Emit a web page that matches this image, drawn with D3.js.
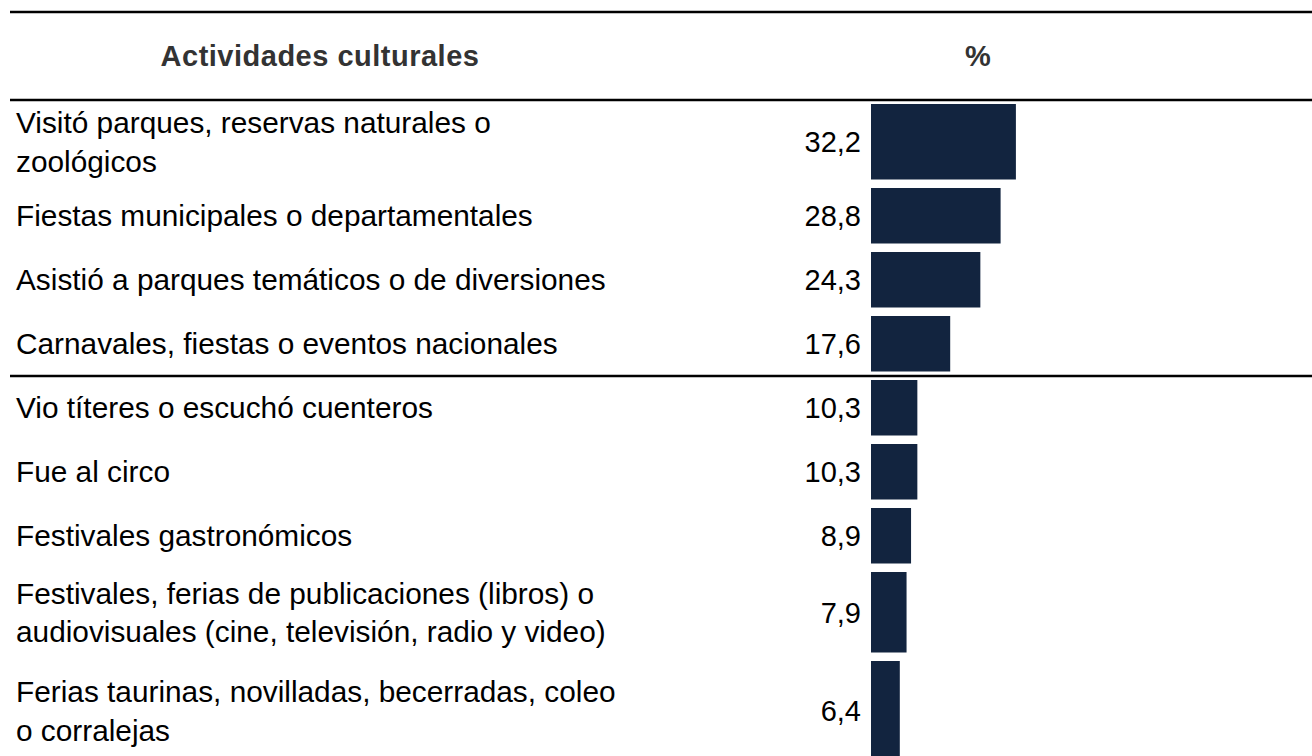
<!DOCTYPE html>
<html><head><meta charset="utf-8">
<script src="https://cdn.jsdelivr.net/npm/d3@7"></script>
<style>html,body{margin:0;padding:0;background:#fff;overflow:hidden}</style>
</head><body><svg id="chart" width="1312" height="756"></svg>
<script>
// ---- data ----
const categories = [
  "Visitó parques, reservas naturales o\nzoológicos",
  "Fiestas municipales o departamentales",
  "Asistió a parques temáticos o de diversiones",
  "Carnavales, fiestas o eventos nacionales",
  "Vio títeres o escuchó cuenteros",
  "Fue al circo",
  "Festivales gastronómicos",
  "Festivales, ferias de publicaciones (libros) o\naudiovisuales (cine, televisión, radio y video)",
  "Ferias taurinas, novilladas, becerradas, coleo\no corralejas"
];
const values = [32.2, 28.8, 24.3, 17.6, 10.3, 10.3, 8.9, 7.9, 6.4];
const headers = ["Actividades culturales", "%"];
const groupSizes = [4, 5];

// ---- layout ----
const W = 1312, H = 756;
const rowPitch = [84, 64, 64, 64, 64, 64, 64, 89, 108];
const tableTop = 100, ruleTop = 12, ruleX0 = 10;
const barInsetTop = 4, barGap = 8.5;
const fsLabel = 29.8, fsValue = 29, lineGap = 38.5;
const font = "'Liberation Sans', Arial, Helvetica, sans-serif";
const barColor = "#12243f";

const svg = d3.select("#chart");
const fmt = d3.formatLocale({decimal: ",", thousands: ".", grouping: [3], currency: ["", ""]}).format(".1f");

const x = d3.scaleLinear().domain([0, 100]).range([871, 871 + 450]);

const starts = [tableTop, ...d3.cumsum(rowPitch).map(v => tableTop + v)];
const rows = categories.map((c, i) => {
  const top = starts[i] + barInsetTop;
  const h = rowPitch[i] - barGap;
  return {label: c.split("\n"), value: values[i], top, h, center: top + h / 2};
});

// rules
const ruleYs = [ruleTop, tableTop];
let acc = 0;
groupSizes.slice(0, -1).forEach(g => { acc += g; ruleYs.push(starts[acc]); });
svg.selectAll("line.rule").data(ruleYs).join("line")
  .attr("class", "rule")
  .attr("x1", ruleX0).attr("x2", W)
  .attr("y1", d => d).attr("y2", d => d)
  .attr("stroke", "#000").attr("stroke-width", 2.6);

// headers
svg.append("text").text(headers[0])
  .attr("x", 320).attr("y", 66).attr("text-anchor", "middle")
  .attr("font-family", font).attr("font-weight", "bold").attr("font-size", 29)
  .attr("letter-spacing", 0.5).attr("fill", "#333");
svg.append("text").text(headers[1])
  .attr("x", 978).attr("y", 66).attr("text-anchor", "middle")
  .attr("font-family", font).attr("font-weight", "bold").attr("font-size", 29)
  .attr("fill", "#333");

// bars
svg.selectAll("rect.bar").data(rows).join("rect")
  .attr("class", "bar")
  .attr("x", x(0)).attr("y", d => d.top)
  .attr("width", d => x(d.value) - x(0)).attr("height", d => d.h)
  .attr("fill", barColor);

// category labels
const lab = svg.selectAll("text.cat").data(rows).join("text")
  .attr("class", "cat")
  .attr("font-family", font).attr("font-size", fsLabel).attr("fill", "#000");
lab.each(function(d) {
  const n = d.label.length;
  d3.select(this).selectAll("tspan").data(d.label).join("tspan")
    .attr("x", 16)
    .attr("y", (t, i) => d.center + (i - (n - 1) / 2) * lineGap + 0.355 * fsLabel)
    .text(t => t);
});

// value labels
svg.selectAll("text.val").data(rows).join("text")
  .attr("class", "val")
  .attr("x", 861).attr("y", d => d.center + 0.355 * fsValue)
  .attr("text-anchor", "end")
  .attr("font-family", font).attr("font-size", fsValue).attr("fill", "#000")
  .text(d => fmt(d.value));
</script>
</body></html>
